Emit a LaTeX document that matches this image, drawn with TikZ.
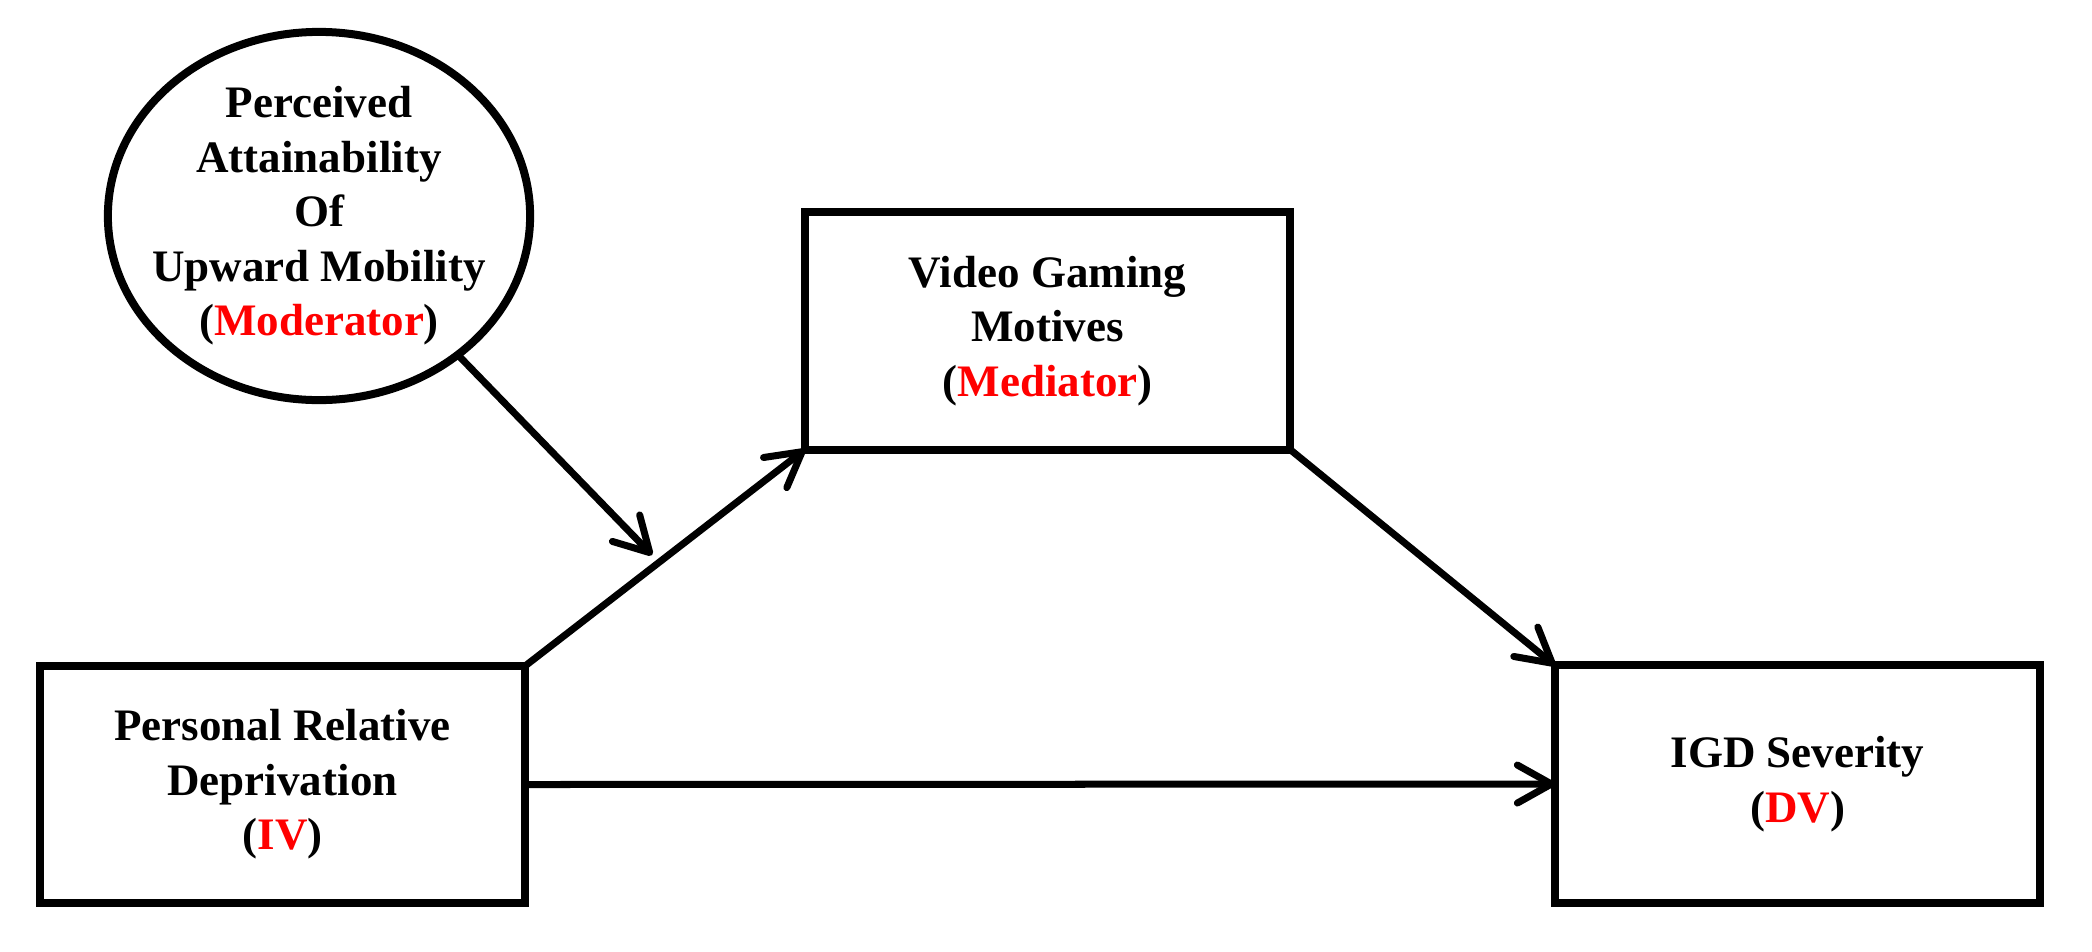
\documentclass[tikz,border=0pt]{standalone}
\usepackage{fontspec}
\setmainfont{Liberation Serif}
\usetikzlibrary{arrows.meta,shapes.geometric}
\definecolor{labred}{RGB}{255,0,0}
\newcommand{\rd}[1]{\textcolor{labred}{#1}}
\begin{document}
\begin{tikzpicture}[x=0.01cm,y=-0.01cm,
  txt/.style={align=center, inner sep=0pt, font=\fontsize{12.8}{15.5}\selectfont\bfseries},
  varbox/.style={txt, draw, line width=0.08cm, outer sep=0pt, minimum width=4.85cm, minimum height=2.37cm},
  modell/.style={ellipse, draw, line width=0.08cm, outer sep=0pt, inner sep=0pt, minimum width=4.22cm, minimum height=3.68cm},
  arr/.style={line width=0.07cm, -{Straight Barb[length=0.34cm, width=0.38cm, round]}}]
\useasboundingbox (0,0) rectangle (2092,951);
\node[modell] (mod) at (319,216) {};
\node[txt] (modtext) at (mod.center) {Perceived\\Attainability\\Of\\Upward Mobility\\(\rd{Moderator})};
\node[varbox] (med) at (1047.5,331) {Video Gaming\\Motives\\(\rd{Mediator})};
\node[varbox] (iv) at (282.5,784.5) {Personal Relative\\Deprivation\\(\rd{IV})};
\node[varbox] (dv) at (1797.5,784) {IGD Severity\\(\rd{DV})};
\draw[arr] (iv.north east) -- coordinate[pos=0.479] (onpath) (med.south west);
\draw[arr] (med.south east) -- (dv.north west);
\draw[arr] (iv.east) -- (dv.west);
\draw[arr, shorten >=0.1cm] (mod.-45) -- (onpath);
\end{tikzpicture}
\end{document}
